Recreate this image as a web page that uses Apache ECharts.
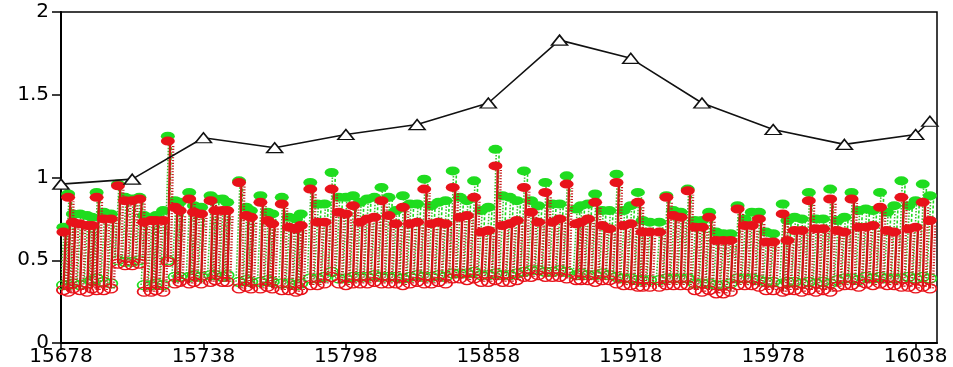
<!DOCTYPE html>
<html>
<head>
<meta charset="utf-8">
<script src="https://cdn.jsdelivr.net/npm/echarts@6/dist/echarts.min.js"></script>
<style>
  html, body { margin: 0; padding: 0; background: #fff; }
  #chart { width: 953px; height: 367px; }
</style>
</head>
<body>
<div id="chart"></div>
<script>
// Day numbers of each observation
const days = [
  15679,15681,15683,15686,15689,15691,15693,15696,15699,15702,15705,15708,15711,15713,15716,15718,15721,15723,15726,15728,15732,15734,15737,15741,15743,15746,15748,15753,15756,15758,15762,15765,15767,15771,15774,15777,15779,15783,15786,15789,15792,15795,15798,15801,
  15804,15807,15810,15813,15816,15819,15822,15825,15828,15831,15834,15837,15840,15843,15846,15849,15852,15855,15858,15861,15864,15867,15870,15873,15876,15879,15882,15885,15888,15891,15895,15897,15900,15903,15906,15909,15912,15915,15918,15921,15923,
  15926,15930,15933,15936,15939,15942,15945,15948,15951,15954,15957,15960,15963,15966,15969,15972,15975,15978,15982,15984,15987,15990,15993,15996,15999,16002,16005,16008,16011,16014,16017,16020,16023,16026,16029,16032,16035,16038,16041,16044
];

// Red series: upper and lower values
const redHigh = [
  0.67,0.88,0.73,0.72,0.71,0.71,0.88,0.75,0.75,0.95,0.86,0.86,0.87,0.73,0.74,0.74,0.74,1.22,0.82,0.80,0.87,0.79,0.78,0.86,0.80,0.80,0.80,0.97,0.77,0.76,0.85,0.74,0.72,0.84,0.70,0.69,0.71,0.93,0.73,0.73,0.93,0.79,0.78,0.83,
  0.73,0.75,0.76,0.86,0.77,0.72,0.82,0.72,0.73,0.93,0.72,0.73,0.72,0.94,0.76,0.77,0.88,0.67,0.68,1.07,0.71,0.72,0.74,0.94,0.79,0.73,0.91,0.73,0.75,0.96,0.72,0.73,0.75,0.85,0.71,0.69,0.97,0.71,0.72,0.85,0.67,
  0.67,0.67,0.88,0.77,0.76,0.92,0.70,0.70,0.76,0.62,0.62,0.62,0.81,0.71,0.71,0.75,0.61,0.61,0.78,0.62,0.68,0.68,0.86,0.69,0.69,0.87,0.68,0.67,0.87,0.70,0.70,0.71,0.82,0.68,0.67,0.88,0.69,0.70,0.85,0.74
];
const redLow = [
  0.32,0.31,0.33,0.32,0.31,0.33,0.32,0.32,0.33,0.48,0.47,0.47,0.48,0.31,0.31,0.32,0.31,0.49,0.36,0.37,0.36,0.37,0.36,0.37,0.38,0.37,0.37,0.33,0.34,0.33,0.33,0.34,0.33,0.32,0.32,0.31,0.32,0.35,0.35,0.36,0.40,0.36,0.35,0.36,
  0.36,0.36,0.37,0.36,0.36,0.36,0.35,0.36,0.37,0.36,0.36,0.37,0.36,0.39,0.39,0.38,0.39,0.37,0.37,0.38,0.37,0.37,0.38,0.40,0.40,0.41,0.40,0.40,0.40,0.39,0.38,0.38,0.38,0.37,0.38,0.38,0.36,0.35,0.35,0.34,0.34,
  0.34,0.34,0.35,0.35,0.35,0.35,0.32,0.31,0.32,0.30,0.30,0.31,0.35,0.35,0.35,0.34,0.32,0.32,0.31,0.32,0.32,0.31,0.32,0.31,0.32,0.31,0.34,0.35,0.35,0.34,0.36,0.35,0.36,0.35,0.35,0.34,0.34,0.33,0.34,0.33
];

// Green series: upper and lower values
const greenHigh = [
  0.70,0.90,0.78,0.78,0.77,0.76,0.91,0.79,0.78,0.96,0.88,0.87,0.88,0.77,0.75,0.77,0.80,1.25,0.86,0.85,0.91,0.83,0.82,0.89,0.87,0.87,0.85,0.98,0.82,0.80,0.89,0.79,0.78,0.88,0.76,0.75,0.78,0.97,0.84,0.84,1.03,0.88,0.88,0.89,
  0.85,0.87,0.88,0.94,0.88,0.80,0.89,0.84,0.84,0.99,0.83,0.85,0.86,1.04,0.88,0.86,0.98,0.80,0.82,1.17,0.89,0.88,0.86,1.04,0.86,0.83,0.97,0.84,0.84,1.01,0.81,0.83,0.84,0.90,0.80,0.80,1.02,0.80,0.83,0.91,0.74,
  0.73,0.73,0.89,0.80,0.79,0.93,0.74,0.74,0.79,0.67,0.66,0.66,0.83,0.75,0.79,0.79,0.67,0.66,0.84,0.74,0.76,0.75,0.91,0.75,0.75,0.93,0.74,0.76,0.91,0.80,0.81,0.80,0.91,0.79,0.83,0.98,0.83,0.86,0.96,0.89
];
const greenLow = [
  0.35,0.35,0.36,0.35,0.36,0.38,0.39,0.37,0.36,0.50,0.49,0.49,0.50,0.35,0.35,0.36,0.35,0.50,0.40,0.40,0.40,0.41,0.40,0.41,0.41,0.40,0.41,0.37,0.38,0.37,0.37,0.38,0.37,0.36,0.36,0.35,0.36,0.39,0.39,0.40,0.43,0.39,0.39,0.40,
  0.40,0.40,0.41,0.40,0.40,0.40,0.39,0.40,0.41,0.40,0.40,0.41,0.40,0.42,0.42,0.42,0.43,0.41,0.41,0.42,0.41,0.41,0.42,0.43,0.44,0.44,0.43,0.43,0.44,0.43,0.41,0.42,0.41,0.41,0.42,0.41,0.40,0.39,0.39,0.38,0.38,
  0.38,0.38,0.39,0.39,0.39,0.39,0.36,0.36,0.36,0.35,0.35,0.36,0.39,0.39,0.39,0.38,0.37,0.37,0.36,0.37,0.37,0.36,0.37,0.36,0.37,0.36,0.38,0.39,0.39,0.38,0.40,0.39,0.40,0.39,0.39,0.39,0.40,0.39,0.40,0.39
];

// Monthly reference line
const monthDays   = [15678,15708,15738,15768,15798,15828,15858,15888,15918,15948,15978,16008,16038,16044];
const monthValues = [0.96, 0.99, 1.24, 1.18, 1.26, 1.32, 1.45, 1.83, 1.72, 1.45, 1.29, 1.20, 1.26, 1.34];

// Axis ticks
const xTicks = [15678,15738,15798,15858,15918,15978,16038];
const X_MIN = 15678, X_MAX = 16047;

const RED = '#e8121a';
const RED_STEM = '#cf1414';
const GREEN = '#1fdc1f';

function stemData(high, low) {
  return days.map((d, i) => [d, low[i], high[i]]);
}

// Each observation: a slanted stem from the lower value to the upper value,
// with a parallel patterned stroke beside it.
function stemSeries(high, low, style) {
  return {
    type: 'custom',
    z: style.z,
    silent: true,
    clip: true,
    data: stemData(high, low),
    renderItem: function (params, api) {
      const b = api.coord([api.value(0), api.value(1)]);
      const t = api.coord([api.value(0) + style.lean, api.value(2)]);
      return {
        type: 'group',
        children: [
          {
            type: 'line',
            shape: { x1: b[0] + style.offset, y1: b[1], x2: t[0] + style.offset, y2: t[1] + 4 },
            style: { stroke: style.color2, lineWidth: style.width2, lineDash: style.dash2 }
          },
          {
            type: 'line',
            shape: { x1: b[0], y1: b[1], x2: t[0], y2: t[1] },
            style: { stroke: style.color, lineWidth: style.width, lineDash: style.dash1 }
          }
        ]
      };
    }
  };
}

function topMarks(high, color, z) {
  return {
    type: 'scatter', z: z, silent: true,
    symbol: 'circle', symbolSize: [14, 9],
    itemStyle: { color: color, opacity: 1 },
    data: days.map((d, i) => [d, high[i]])
  };
}

function bottomMarks(low, color, z) {
  return {
    type: 'scatter', z: z, silent: true,
    symbol: 'circle', symbolSize: [13, 9],
    itemStyle: { color: 'rgba(0,0,0,0)', borderColor: color, borderWidth: 1.5, opacity: 1 },
    data: days.map((d, i) => [d, low[i]])
  };
}

const chart = echarts.init(document.getElementById('chart'), null, { renderer: 'canvas' });

chart.setOption({
  animation: false,
  backgroundColor: '#fff',
  grid: {
    left: 61, right: 16, top: 12, bottom: 22,
    show: true, borderColor: '#000', borderWidth: 1.5, backgroundColor: 'transparent'
  },
  xAxis: {
    type: 'value', min: X_MIN, max: X_MAX,
    axisLine: { show: true, onZero: false, lineStyle: { color: '#000', width: 2 } },
    axisTick: { show: true, customValues: xTicks, length: 7, lineStyle: { color: '#000', width: 1.5 } },
    axisLabel: {
      customValues: xTicks, margin: 4, color: '#000',
      fontFamily: 'DejaVu Sans', fontSize: 20,
      formatter: function (v) { return String(v); }
    },
    splitLine: { show: false }
  },
  yAxis: {
    type: 'value', min: 0, max: 2, interval: 0.5,
    axisLine: { show: true, onZero: false, lineStyle: { color: '#000', width: 2 } },
    axisTick: { show: true, length: 9, lineStyle: { color: '#000', width: 1.5 } },
    axisLabel: { margin: 12, color: '#000', fontFamily: 'DejaVu Sans', fontSize: 20 },
    splitLine: { show: false }
  },
  series: [
    stemSeries(greenHigh, greenLow, { color: GREEN, color2: '#3fbf2f', lean: 1.6, width: 1.6, dash1: [3, 2], offset: -3, width2: 1.6, dash2: [1.5, 1.5], z: 2 }),
    bottomMarks(greenLow, GREEN, 3),
    topMarks(greenHigh, GREEN, 3),
    stemSeries(redHigh, redLow, { color: RED_STEM, color2: '#c81e1e', lean: 1.0, width: 2.4, dash1: null, offset: 3, width2: 2.4, dash2: [1.2, 1.6], z: 4 }),
    bottomMarks(redLow, RED, 5),
    topMarks(redHigh, RED, 5),
    {
      type: 'line', z: 10, silent: true,
      data: monthDays.map((d, i) => [d, monthValues[i]]),
      symbol: 'triangle', symbolSize: [16, 10], showAllSymbol: true,
      lineStyle: { color: '#111', width: 1.6 },
      itemStyle: { color: '#fff', borderColor: '#111', borderWidth: 1.5 }
    }
  ]
});
</script>
</body>
</html>
